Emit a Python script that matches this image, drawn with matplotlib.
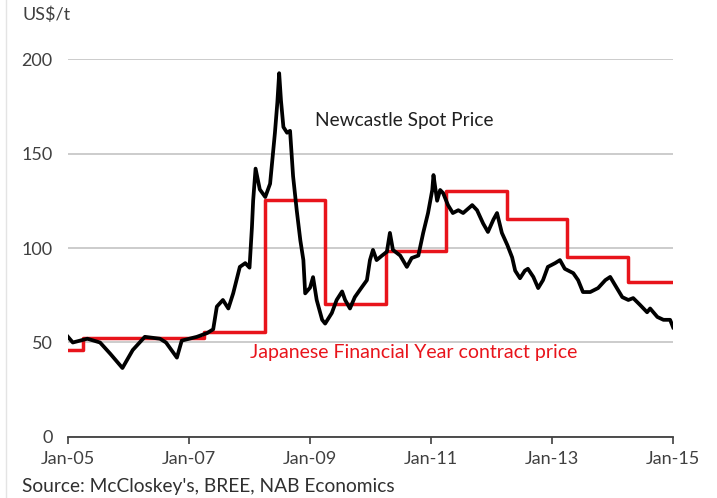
import numpy as np
import matplotlib; matplotlib.use('Agg')
import matplotlib.pyplot as plt
from matplotlib.lines import Line2D

plt.rcParams['font.family'] = ['Lato', 'DejaVu Sans']

# Newcastle spot price (US$/t), decimal year
spot_t = [2005.0, 2005.08, 2005.32, 2005.53, 2005.7, 2005.9, 2006.07, 2006.27, 2006.52,
          2006.62, 2006.8, 2006.88, 2007.13, 2007.3, 2007.4, 2007.46, 2007.56, 2007.65,
          2007.73, 2007.84, 2007.93, 2008.0, 2008.04, 2008.06, 2008.1, 2008.17, 2008.26,
          2008.34, 2008.42, 2008.46, 2008.49, 2008.52, 2008.56, 2008.62, 2008.67, 2008.72,
          2008.78, 2008.84, 2008.89, 2008.92, 2009.0, 2009.05, 2009.11, 2009.2, 2009.25,
          2009.36, 2009.44, 2009.53, 2009.58, 2009.66, 2009.74, 2009.85, 2009.94, 2009.99,
          2010.04, 2010.1, 2010.19, 2010.27, 2010.32, 2010.37, 2010.49, 2010.6, 2010.68,
          2010.79, 2010.87, 2010.95, 2011.02, 2011.04, 2011.1, 2011.15, 2011.2, 2011.28,
          2011.36, 2011.45, 2011.53, 2011.68, 2011.76, 2011.86, 2011.94, 2012.03, 2012.09,
          2012.17, 2012.26, 2012.34, 2012.39, 2012.47, 2012.55, 2012.6, 2012.69, 2012.77,
          2012.85, 2012.93, 2013.05, 2013.13, 2013.21, 2013.35, 2013.43, 2013.51, 2013.63,
          2013.76, 2013.88, 2013.96, 2014.04, 2014.16, 2014.26, 2014.34, 2014.45, 2014.57,
          2014.62, 2014.74, 2014.84, 2014.95, 2015.0]
spot_v = [53, 50, 52, 50, 44, 36.5, 46, 53, 52,
          50, 42, 51, 53, 55, 57, 69, 72.5, 68,
          76, 90, 92, 89.6, 111, 125, 142, 131, 127,
          134, 161, 177, 192.5, 178, 164, 161, 162, 138,
          120, 104, 93.6, 76, 79, 84.6, 72.5, 62, 60,
          65.6, 72.5, 77, 72.5, 68, 74, 79, 83, 93.6,
          99, 93.6, 96, 98, 108, 99, 96, 90, 94.7,
          96, 108, 118.5, 130.7, 138.6, 125, 130.7, 129, 122.7,
          118.5, 120, 118.5, 122.7, 120, 113, 108.5, 115, 118.5,
          108, 101.6, 95, 88, 84, 88, 89, 84.7, 78.8,
          83, 90, 92, 93.6, 89, 86.7, 83, 76.7, 76.7,
          78.8, 83, 84.7, 80.4, 74, 72.5, 73.5, 70, 66,
          68, 63.5, 62, 62, 58]

# Japanese FY contract price (step changes each April)
jfy_t = [2005.0, 2005.25, 2006.25, 2007.25, 2008.25, 2009.25, 2010.25, 2011.25,
         2012.25, 2013.25, 2014.25, 2015.0]
jfy_v = [46, 52.5, 52.5, 55.7, 125.5, 70.5, 98.5, 130, 115.5, 95, 82, 82]

ticks = [2005, 2007, 2009, 2011, 2013, 2015]
tick_labels = ['Jan-05', 'Jan-07', 'Jan-09', 'Jan-11', 'Jan-13', 'Jan-15']
yticks = [0, 50, 100, 150, 200]

fig = plt.figure(figsize=(7.17, 4.98), dpi=100)
ax = fig.add_axes([0.0948, 0.1225, 0.844, 0.759])

ax.step(jfy_t, jfy_v, where='post', color='#e8141b', lw=2.5, zorder=3)
ax.plot(spot_t, spot_v, color='black', lw=2.7, zorder=4)

ax.set_xlim(2005, 2015)
ax.set_ylim(0, 200)
ax.set_xticks(ticks)
ax.set_xticklabels(tick_labels)
ax.set_yticks(yticks)
ax.tick_params(axis='x', direction='out', length=5, width=1.2, color='#404040',
               labelsize=13, labelcolor='#404040', pad=5)
ax.tick_params(axis='y', length=0, labelsize=13, labelcolor='#404040', pad=11)
ax.grid(axis='y', color='#c8c8c8', lw=1.3)
ax.set_axisbelow(True)
for s in ['top', 'right', 'left']:
    ax.spines[s].set_visible(False)
ax.spines['bottom'].set_color('#404040')
ax.spines['bottom'].set_linewidth(1.3)
ax.spines['bottom'].set_zorder(2)

ax.text(2009.08, 167.5, 'Newcastle Spot Price', fontsize=13.8, color='#202020', va='center')
ax.text(2008.0, 44.5, 'Japanese Financial Year contract price', fontsize=14,
        color='#e8141b', va='center')

fig.text(22 / 717, 1 - 15 / 498, 'US$/t', fontsize=13, color='#404040', va='center')
fig.text(22 / 717, 1 - 486 / 498, "Source: McCloskey's, BREE, NAB Economics",
         fontsize=13.8, color='#303030', va='center')
fig.add_artist(Line2D([6 / 717, 6 / 717], [0, 1], color='#e4e4e4', lw=1,
                      transform=fig.transFigure))

fig.savefig('out.png', dpi=100)
